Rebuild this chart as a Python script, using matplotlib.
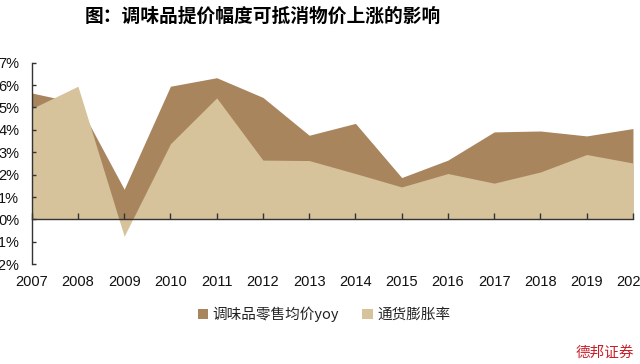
import numpy as np
import matplotlib
matplotlib.use("Agg")
import matplotlib.pyplot as plt
from matplotlib.patches import Patch

# ===============================
# 数据
# ===============================

years = [2007, 2008, 2009, 2010, 2011, 2012, 2013, 2014, 2015, 2016, 2017, 2018, 2019, 2020]
price_yoy = [5.65, 5.2, 1.35, 5.95, 6.33, 5.45, 3.76, 4.29, 1.87, 2.65, 3.91, 3.95, 3.73, 4.06]
cpi = [4.95, 5.95, -0.75, 3.38, 5.43, 2.65, 2.63, 2.05, 1.45, 2.05, 1.62, 2.12, 2.9, 2.52]
labels = ["调味品零售均价yoy", "通货膨胀率"]
yticks = list(range(-2, 8))

dark = "#a8855d"
light = "#d6c39c"
cjk = ["Noto Sans CJK SC", "DejaVu Sans"]

plt.rcParams["font.family"] = ["Liberation Sans", "Noto Sans CJK SC"]

# ===============================
# 画图
# ===============================

fig = plt.figure(figsize=(6.4, 3.64), dpi=100)
ax = fig.add_axes([0.0495, 0.2742, 0.9395, 0.5535])

ax.fill_between(years, 0, price_yoy, color=dark, linewidth=0)
ax.fill_between(years, 0, cpi, color=light, linewidth=0)

ax.set_xlim(2007, 2020)
ax.set_ylim(-2, 7)
ax.set_xticks(years)
ax.set_yticks(yticks)
ax.set_yticklabels([f"{v}%" for v in yticks])

ax.spines["top"].set_visible(False)
ax.spines["right"].set_visible(False)
ax.spines["bottom"].set_position(("data", 0))
for s in ("left", "bottom"):
    ax.spines[s].set_color("#333333")
    ax.spines[s].set_linewidth(1.0)

ax.tick_params(axis="x", direction="in", length=4, width=1, color="#333333",
               pad=40, labelsize=10.5, labelcolor="#111111")
ax.tick_params(axis="y", direction="in", length=3, width=1, color="#333333",
               pad=9, labelsize=10.5, labelcolor="#111111")

# 标题
fig.text(0.41, 1 - 16 / 364, "图：调味品提价幅度可抵消物价上涨的影响",
         ha="center", va="center", fontsize=13.5, fontweight="bold", family=cjk)

# 图例
handles = [Patch(facecolor=dark, edgecolor="none"), Patch(facecolor=light, edgecolor="none")]
fig.legend(handles, labels, loc="center", bbox_to_anchor=(324 / 640, 1 - 314 / 364),
           ncol=2, frameon=False, handlelength=0.7, handleheight=0.7,
           handletextpad=0.3, columnspacing=1.6,
           prop={"family": cjk, "size": 10.5}, labelcolor="#222222")

# 水印
fig.text(0.99, 0.03, "德邦证券", ha="right", va="center", color="#c8202a",
         fontsize=10.5, style="italic", family=cjk)

fig.savefig("out.png", dpi=100, facecolor="white")
